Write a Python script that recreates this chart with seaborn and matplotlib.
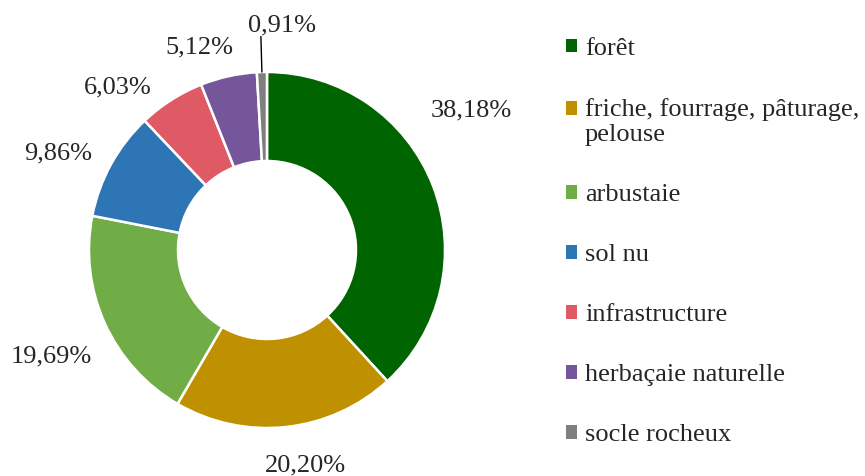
import numpy as np
import seaborn as sns
import matplotlib.pyplot as plt
from matplotlib.patches import Patch, Rectangle
from matplotlib.legend_handler import HandlerPatch

categories = ['forêt', 'friche, fourrage, pâturage,\npelouse', 'arbustaie', 'sol nu',
              'infrastructure', 'herbaçaie naturelle', 'socle rocheux']
shares = [38.18, 20.20, 19.69, 9.86, 6.03, 5.12, 0.91]
labels = ['38,18%', '20,20%', '19,69%', '9,86%', '6,03%', '5,12%', '0,91%']
colors = ['#006400', '#BF9000', '#70AD47', '#2E75B6', '#E05A65', '#76569A', '#7F7F7F']

# label placement (distance in radii, angle nudge in degrees) - excel "best fit" look
label_dist = [1.39, 1.23, 1.35, 1.29, 1.24, 1.20, 1.20]
label_nudge = [13, 4, 2, 4, 10, 6, 0]

sns.set_style('white')
plt.rcParams['font.family'] = ['Liberation Serif', 'DejaVu Serif']

W, H = 865, 476
fig = plt.figure(figsize=(W / 100, H / 100), dpi=100)

# pie centre at (267, 226) px from bottom-left, radius 178 px
R = 178
lim = 1.3
size = 2 * lim * R
cx, cy = 267, 226
ax = fig.add_axes([(cx - size / 2) / W, (cy - size / 2) / H, size / W, size / H])

wedges, _ = ax.pie(shares, colors=colors, startangle=90, counterclock=False,
                   radius=1.0, wedgeprops=dict(width=0.5, edgecolor='white', linewidth=1.8))
ax.set_xlim(-lim, lim)
ax.set_ylim(-lim, lim)
ax.set_aspect('equal')
ax.axis('off')

# percentage labels outside the ring
for i, (w, lab) in enumerate(zip(wedges, labels)):
    mid = np.deg2rad((w.theta1 + w.theta2) / 2)
    if shares[i] < 2:
        # tiny slice: leader line straight up to the label
        x0, y0 = np.cos(mid), np.sin(mid)
        x1, y1 = label_dist[i] * np.cos(mid), label_dist[i] * np.sin(mid)
        ax.plot([x0, x1], [y0, y1], color='black', lw=1, clip_on=False)
        ax.text(x1 - 0.07, y1, lab, ha='left', va='bottom', fontsize=19)
    else:
        a = mid + np.deg2rad(label_nudge[i])
        d = label_dist[i]
        ax.text(d * np.cos(a), d * np.sin(a), lab, ha='center', va='center', fontsize=19)


# two-line entry: put the square on the first line like excel does
def top_square(legend, orig_handle, xdescent, ydescent, width, height, fontsize):
    return Rectangle((-xdescent, -ydescent + 0.5 * fontsize * 1.0), width, height)


handles = [Patch(facecolor=c, edgecolor='none') for c in colors]
fig.legend(handles, categories, loc='upper left', bbox_to_anchor=(566 / W, 1 - 38 / H),
           frameon=False, fontsize=19, handlelength=0.42, handleheight=0.42,
           handletextpad=0.3, labelspacing=1.44, borderpad=0, borderaxespad=0,
           handler_map={handles[1]: HandlerPatch(patch_func=top_square)})

plt.savefig('out.png', dpi=100)
